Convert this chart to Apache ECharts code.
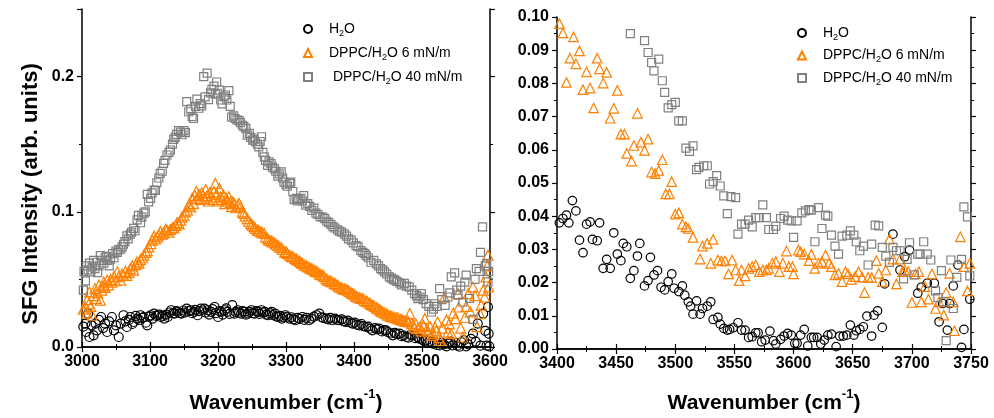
<!DOCTYPE html>
<html><head><meta charset="utf-8">
<script src="https://cdn.jsdelivr.net/npm/echarts@6/dist/echarts.min.js"></script>
<style>html,body{margin:0;padding:0;background:#fff}#c{width:994px;height:418px}</style>
</head><body><div id="c"></div>
<script>
// ---------- LEFT PANEL DATA (3000-3600 cm-1) ----------
const L_H2O_WN = [3002,3005,3006,3009,3011,3014,3017,3020,3022,3025,3028,3031,3034,3037,3040,3044,3047,3050,3054,3057,3061,3064,3066,3069,3071,3074,3076,3079,3081,3084,3086,3089,3091,3094,3096,3099,3101,3104,3106,3109,3111,3114,3116,3119,3121,3124,3126,3129,3131,3134,3136,3139,3141,3144,3146,3149,3151,3154,3157,3160,3162,3165,3167,3170,3172,3175,3177,3180,3182,3185,3187,3190,3192,3195,3197,3200,3202,3205,3207,3210,3212,3214,3217,3221,3224,3226,3229,3231,3234,3236,3239,3241,3244,3246,3249,3251,3254,3256,3259,3261,3264,3266,3269,3271,3274,3276,3279,3281,3284,3286,3289,3291,3294,3296,3299,3301,3305,3308,3311,3314,3317,3320,3324,3327,3330,3334,3337,3341,3345,3349,3352,3355,3359,3362,3365,3368,3372,3375,3378,3382,3385,3388,3391,3395,3398,3401,3404,3408,3411,3414,3418,3421,3424,3427,3431,3434,3437,3441,3444,3447,3450,3454,3457,3460,3463,3467,3470,3473,3477,3480,3483,3486,3490,3493,3496,3500,3503,3506,3509,3512,3516,3519,3522,3526,3529,3532,3536,3539,3542,3545,3549,3552,3555,3558,3562,3565,3568,3572,3575,3579,3582,3586,3590,3593,3595,3597,3598,3599];
const L_H2O_I = [0.0150,0.0173,0.0111,0.0247,0.0074,0.0160,0.0086,0.0173,0.0123,0.0200,0.0222,0.0140,0.0173,0.0111,0.0190,0.0222,0.0123,0.0160,0.0074,0.0173,0.0235,0.0190,0.0148,0.0200,0.0222,0.0170,0.0185,0.0230,0.0210,0.0200,0.0235,0.0215,0.0222,0.0180,0.0160,0.0225,0.0235,0.0210,0.0247,0.0230,0.0235,0.0240,0.0222,0.0230,0.0210,0.0240,0.0222,0.0255,0.0272,0.0250,0.0247,0.0265,0.0260,0.0250,0.0247,0.0270,0.0255,0.0284,0.0265,0.0272,0.0250,0.0260,0.0275,0.0235,0.0265,0.0284,0.0270,0.0284,0.0255,0.0272,0.0240,0.0260,0.0280,0.0296,0.0250,0.0222,0.0265,0.0260,0.0240,0.0272,0.0285,0.0260,0.0245,0.0309,0.0247,0.0260,0.0272,0.0255,0.0247,0.0265,0.0260,0.0240,0.0247,0.0260,0.0272,0.0250,0.0247,0.0265,0.0260,0.0245,0.0272,0.0255,0.0260,0.0240,0.0235,0.0250,0.0260,0.0235,0.0247,0.0225,0.0222,0.0230,0.0210,0.0220,0.0235,0.0222,0.0210,0.0220,0.0205,0.0198,0.0215,0.0208,0.0222,0.0200,0.0215,0.0198,0.0210,0.0225,0.0235,0.0247,0.0220,0.0215,0.0210,0.0205,0.0215,0.0198,0.0210,0.0200,0.0198,0.0205,0.0190,0.0185,0.0195,0.0180,0.0173,0.0180,0.0165,0.0160,0.0170,0.0155,0.0148,0.0150,0.0135,0.0123,0.0140,0.0130,0.0136,0.0115,0.0125,0.0123,0.0110,0.0100,0.0086,0.0105,0.0095,0.0099,0.0080,0.0085,0.0074,0.0070,0.0090,0.0086,0.0065,0.0075,0.0062,0.0055,0.0045,0.0049,0.0030,0.0040,0.0025,0.0035,0.0015,0.0012,0.0030,0.0020,0.0005,0.0025,0.0040,0.0012,0.0030,0.0010,0.0002,0.0035,0.0050,0.0005,0.0020,0.0060,0.0099,0.0040,0.0173,0.0010,0.0247,0.0120,0.0010,0.0296,0.0099,0.0005];

const L_D6_WN = [3002,3005,3007,3008,3010,3011,3013,3015,3017,3019,3021,3023,3025,3027,3029,3031,3032,3034,3037,3039,3042,3044,3047,3049,3052,3054,3057,3059,3061,3064,3066,3069,3071,3074,3076,3079,3081,3084,3086,3089,3091,3094,3096,3098,3101,3103,3106,3108,3111,3113,3115,3118,3120,3123,3125,3128,3130,3133,3135,3138,3140,3143,3145,3147,3150,3152,3155,3157,3160,3162,3164,3166,3168,3170,3172,3174,3176,3178,3180,3182,3184,3186,3188,3190,3192,3194,3196,3198,3200,3202,3204,3206,3208,3210,3212,3214,3216,3218,3220,3222,3224,3226,3229,3231,3233,3236,3238,3240,3243,3245,3248,3250,3253,3255,3258,3260,3263,3265,3268,3270,3273,3275,3278,3280,3283,3285,3288,3290,3293,3295,3298,3300,3302,3305,3308,3310,3313,3315,3317,3320,3322,3324,3327,3330,3332,3335,3337,3339,3342,3344,3346,3349,3351,3354,3356,3359,3361,3364,3366,3368,3371,3373,3376,3378,3381,3383,3386,3388,3391,3393,3396,3398,3401,3403,3405,3408,3410,3413,3415,3418,3420,3423,3425,3428,3430,3433,3435,3438,3440,3442,3445,3448,3450,3453,3455,3457,3460,3463,3465,3468,3470,3472,3475,3478,3480,3482,3485,3487,3489,3491,3494,3497,3499,3502,3504,3507,3509,3512,3514,3516,3519,3521,3523,3525,3527,3530,3533,3536,3538,3540,3543,3546,3549,3553,3554,3557,3560,3563,3565,3568,3571,3575,3578,3581,3585,3587,3590,3592,3594,3596,3597,3598];
const L_D6_I = [0.0280,0.0296,0.0250,0.0350,0.0320,0.0407,0.0300,0.0235,0.0380,0.0432,0.0360,0.0400,0.0457,0.0346,0.0420,0.0450,0.0481,0.0440,0.0494,0.0460,0.0500,0.0480,0.0523,0.0490,0.0556,0.0520,0.0494,0.0540,0.0530,0.0560,0.0530,0.0550,0.0580,0.0600,0.0568,0.0610,0.0630,0.0620,0.0647,0.0660,0.0679,0.0700,0.0712,0.0740,0.0765,0.0790,0.0820,0.0800,0.0815,0.0830,0.0852,0.0835,0.0844,0.0870,0.0864,0.0850,0.0869,0.0880,0.0883,0.0900,0.0920,0.0910,0.0938,0.0960,0.0975,0.1000,0.1012,0.1050,0.1037,0.1100,0.1062,0.1120,0.1150,0.1100,0.1130,0.1090,0.1140,0.1120,0.1100,0.1165,0.1120,0.1080,0.1140,0.1110,0.1090,0.1150,0.1210,0.1130,0.1080,0.1173,0.1110,0.1090,0.1124,0.1060,0.1100,0.1080,0.1111,0.1070,0.1040,0.1074,0.1060,0.1030,0.1050,0.1062,0.1037,0.1000,0.0988,0.0970,0.0950,0.0930,0.0915,0.0901,0.0890,0.0877,0.0865,0.0860,0.0852,0.0845,0.0840,0.0815,0.0802,0.0790,0.0785,0.0778,0.0770,0.0760,0.0753,0.0740,0.0735,0.0721,0.0700,0.0705,0.0692,0.0680,0.0670,0.0667,0.0655,0.0650,0.0642,0.0635,0.0625,0.0618,0.0605,0.0600,0.0593,0.0585,0.0580,0.0575,0.0565,0.0560,0.0556,0.0540,0.0535,0.0531,0.0520,0.0505,0.0494,0.0490,0.0485,0.0481,0.0470,0.0465,0.0457,0.0445,0.0440,0.0432,0.0428,0.0425,0.0420,0.0410,0.0400,0.0395,0.0385,0.0375,0.0370,0.0365,0.0360,0.0358,0.0345,0.0340,0.0333,0.0325,0.0315,0.0309,0.0300,0.0290,0.0284,0.0275,0.0265,0.0259,0.0250,0.0245,0.0235,0.0230,0.0225,0.0222,0.0218,0.0215,0.0210,0.0205,0.0200,0.0198,0.0190,0.0195,0.0185,0.0247,0.0175,0.0160,0.0143,0.0170,0.0136,0.0150,0.0120,0.0160,0.0210,0.0130,0.0111,0.0150,0.0086,0.0099,0.0148,0.0120,0.0185,0.0070,0.0049,0.0140,0.0368,0.0200,0.0110,0.0173,0.0099,0.0250,0.0210,0.0395,0.0296,0.0140,0.0074,0.0220,0.0300,0.0395,0.0260,0.0444,0.0380,0.0150,0.0247,0.0309,0.0420,0.0370,0.0518,0.0600,0.0679,0.0444];

const L_D40_WN = [3002,3003,3005,3007,3009,3011,3013,3015,3017,3019,3021,3023,3025,3027,3029,3032,3034,3036,3038,3040,3042,3045,3047,3050,3052,3054,3057,3059,3061,3063,3066,3068,3071,3073,3076,3078,3081,3083,3086,3088,3091,3093,3096,3098,3101,3103,3106,3108,3110,3113,3115,3118,3120,3122,3125,3128,3130,3133,3135,3137,3139,3142,3145,3147,3150,3152,3154,3157,3160,3162,3164,3167,3169,3172,3174,3176,3179,3181,3184,3186,3189,3191,3194,3196,3198,3199,3202,3204,3206,3209,3211,3213,3216,3218,3220,3223,3225,3228,3231,3233,3236,3238,3241,3243,3246,3248,3251,3253,3255,3258,3260,3262,3264,3266,3268,3270,3273,3275,3278,3280,3283,3285,3288,3290,3293,3295,3297,3300,3302,3305,3307,3310,3312,3315,3317,3319,3322,3324,3326,3329,3332,3335,3338,3341,3344,3347,3350,3354,3357,3360,3363,3366,3369,3372,3376,3379,3382,3386,3389,3392,3396,3399,3403,3406,3410,3413,3416,3418,3421,3425,3429,3433,3436,3439,3442,3445,3448,3452,3455,3458,3460,3463,3467,3470,3474,3477,3481,3485,3489,3492,3494,3497,3499,3502,3506,3510,3514,3517,3519,3522,3526,3529,3534,3538,3541,3543,3548,3551,3553,3557,3560,3563,3565,3570,3575,3578,3580,3584,3586,3589,3593,3595,3597,3598];
const L_D40_I = [0.0420,0.0560,0.0489,0.0600,0.0570,0.0620,0.0555,0.0592,0.0640,0.0580,0.0627,0.0550,0.0600,0.0676,0.0640,0.0620,0.0660,0.0670,0.0640,0.0600,0.0650,0.0690,0.0660,0.0710,0.0700,0.0720,0.0723,0.0740,0.0760,0.0780,0.0822,0.0800,0.0835,0.0850,0.0877,0.0860,0.0940,0.0973,0.0919,0.0960,0.0990,0.1000,0.1129,0.1074,0.1100,0.1140,0.1160,0.1159,0.1215,0.1250,0.1284,0.1300,0.1358,0.1380,0.1420,0.1440,0.1457,0.1500,0.1536,0.1550,0.1573,0.1600,0.1590,0.1570,0.1600,0.1585,0.1815,0.1740,0.1760,0.1704,0.1690,0.1780,0.1833,0.1766,0.1800,0.1783,0.2000,0.1850,0.2025,0.1830,0.1880,0.1905,0.1930,0.1870,0.1960,0.1877,0.1900,0.1827,0.1798,0.1850,0.1864,0.1827,0.1896,0.1780,0.1700,0.1710,0.1690,0.1680,0.1674,0.1660,0.1640,0.1630,0.1617,0.1567,0.1580,0.1550,0.1530,0.1540,0.1518,0.1500,0.1480,0.1520,0.1555,0.1440,0.1406,0.1380,0.1344,0.1370,0.1357,0.1330,0.1320,0.1300,0.1264,0.1280,0.1296,0.1250,0.1220,0.1200,0.1189,0.1210,0.1220,0.1150,0.1090,0.1100,0.1080,0.1090,0.1100,0.1080,0.1120,0.1050,0.1060,0.1040,0.1010,0.1027,0.0990,0.0980,0.0965,0.0960,0.0950,0.0930,0.0920,0.0906,0.0890,0.0880,0.0867,0.0855,0.0850,0.0835,0.0820,0.0800,0.0790,0.0770,0.0750,0.0740,0.0713,0.0700,0.0690,0.0676,0.0660,0.0627,0.0640,0.0615,0.0600,0.0580,0.0570,0.0556,0.0540,0.0519,0.0510,0.0500,0.0494,0.0485,0.0474,0.0460,0.0470,0.0450,0.0445,0.0420,0.0395,0.0380,0.0358,0.0370,0.0395,0.0350,0.0321,0.0300,0.0259,0.0280,0.0320,0.0300,0.0432,0.0350,0.0308,0.0370,0.0400,0.0519,0.0549,0.0420,0.0383,0.0450,0.0333,0.0480,0.0531,0.0360,0.0205,0.0500,0.0580,0.0560,0.0700,0.0889,0.0600,0.0618,0.0482,0.0560];

// ---------- RIGHT PANEL DATA (3400-3750 cm-1) ----------
const R_H2O_WN = [3402,3405,3408,3410,3413,3416,3419,3422,3425,3428,3430,3434,3436,3439,3442,3445,3448,3451,3454,3456,3459,3462,3465,3468,3470,3474,3477,3479,3482,3485,3488,3491,3494,3497,3499,3503,3506,3508,3511,3513,3515,3518,3521,3523,3527,3530,3532,3536,3538,3541,3544,3546,3549,3553,3556,3559,3562,3565,3568,3570,3573,3576,3580,3583,3585,3589,3592,3595,3598,3601,3603,3606,3609,3612,3615,3617,3620,3623,3626,3629,3632,3636,3639,3642,3645,3648,3651,3653,3656,3659,3662,3666,3668,3671,3675,3677,3684,3690,3694,3698,3705,3708,3713,3719,3723,3726,3730,3732,3735,3739,3742,3744,3749];
const R_H2O_I = [0.0380,0.0393,0.0403,0.0380,0.0447,0.0416,0.0328,0.0290,0.0376,0.0383,0.0330,0.0326,0.0380,0.0243,0.0270,0.0243,0.0350,0.0286,0.0266,0.0318,0.0308,0.0213,0.0236,0.0280,0.0318,0.0190,0.0206,0.0276,0.0223,0.0236,0.0186,0.0178,0.0203,0.0226,0.0183,0.0173,0.0190,0.0162,0.0142,0.0129,0.0105,0.0145,0.0105,0.0122,0.0129,0.0142,0.0089,0.0095,0.0075,0.0062,0.0057,0.0059,0.0064,0.0079,0.0057,0.0057,0.0035,0.0037,0.0049,0.0049,0.0022,0.0027,0.0054,0.0025,0.0015,0.0029,0.0039,0.0047,0.0042,0.0017,0.0017,0.0042,0.0059,0.0009,0.0035,0.0035,0.0035,0.0015,0.0027,0.0042,0.0045,0.0007,0.0039,0.0039,0.0042,0.0072,0.0042,0.0055,0.0059,0.0067,0.0099,0.0039,0.0102,0.0115,0.0065,0.0196,0.0346,0.0238,0.0278,0.0298,0.0168,0.0186,0.0198,0.0198,0.0082,0.0137,0.0057,0.0137,0.0190,0.0253,0.0005,0.0059,0.0150];

const R_D6_WN = [3402,3405,3408,3411,3414,3416,3419,3422,3425,3428,3431,3434,3436,3439,3442,3445,3448,3451,3454,3457,3459,3463,3465,3468,3471,3474,3477,3480,3483,3486,3489,3492,3495,3497,3500,3503,3506,3509,3511,3515,3521,3523,3527,3530,3532,3536,3539,3542,3545,3548,3551,3554,3556,3559,3562,3565,3568,3571,3574,3577,3579,3582,3585,3588,3591,3594,3596,3599,3600,3604,3606,3609,3613,3615,3618,3621,3624,3627,3630,3632,3635,3638,3641,3644,3646,3649,3652,3655,3658,3660,3663,3666,3670,3672,3675,3678,3681,3684,3687,3690,3692,3694,3697,3700,3703,3706,3708,3711,3714,3717,3720,3723,3727,3729,3732,3735,3736,3741,3744,3747,3749];
const R_D6_I = [0.0980,0.0952,0.0803,0.0876,0.0940,0.0859,0.0898,0.0781,0.0835,0.0786,0.0726,0.0876,0.0844,0.0801,0.0833,0.0695,0.0725,0.0779,0.0647,0.0647,0.0589,0.0566,0.0613,0.0710,0.0623,0.0598,0.0632,0.0533,0.0528,0.0538,0.0570,0.0467,0.0467,0.0504,0.0406,0.0410,0.0376,0.0368,0.0363,0.0336,0.0271,0.0310,0.0318,0.0258,0.0330,0.0268,0.0265,0.0265,0.0226,0.0268,0.0238,0.0206,0.0238,0.0220,0.0243,0.0248,0.0253,0.0233,0.0238,0.0238,0.0243,0.0258,0.0263,0.0233,0.0258,0.0295,0.0248,0.0248,0.0226,0.0298,0.0293,0.0286,0.0266,0.0285,0.0243,0.0258,0.0263,0.0283,0.0258,0.0248,0.0223,0.0228,0.0203,0.0233,0.0226,0.0210,0.0218,0.0233,0.0216,0.0170,0.0216,0.0215,0.0266,0.0228,0.0203,0.0238,0.0331,0.0271,0.0196,0.0271,0.0233,0.0238,0.0233,0.0140,0.0226,0.0233,0.0142,0.0188,0.0150,0.0226,0.0122,0.0142,0.0102,0.0170,0.0228,0.0142,0.0055,0.0338,0.0248,0.0175,0.0258];

const R_D40_WN = [3462,3474,3477,3480,3482,3486,3489,3491,3494,3497,3500,3503,3506,3509,3512,3515,3518,3520,3524,3527,3529,3532,3535,3538,3541,3544,3547,3551,3553,3556,3559,3562,3565,3568,3571,3574,3577,3579,3583,3585,3589,3592,3595,3598,3600,3603,3607,3610,3613,3615,3618,3621,3624,3627,3629,3632,3635,3638,3641,3645,3648,3651,3653,3656,3659,3663,3666,3669,3672,3675,3678,3681,3684,3687,3690,3693,3696,3698,3702,3705,3707,3710,3713,3716,3720,3722,3725,3727,3729,3733,3735,3738,3742,3744,3747,3749];
const R_D40_I = [0.0950,0.0929,0.0893,0.0863,0.0838,0.0873,0.0808,0.0773,0.0726,0.0736,0.0743,0.0687,0.0687,0.0605,0.0595,0.0612,0.0540,0.0547,0.0552,0.0552,0.0497,0.0504,0.0522,0.0491,0.0461,0.0408,0.0459,0.0456,0.0346,0.0376,0.0376,0.0388,0.0368,0.0396,0.0396,0.0434,0.0396,0.0360,0.0360,0.0370,0.0393,0.0400,0.0388,0.0386,0.0336,0.0386,0.0410,0.0416,0.0420,0.0418,0.0323,0.0426,0.0363,0.0403,0.0400,0.0343,0.0310,0.0286,0.0340,0.0343,0.0356,0.0343,0.0323,0.0296,0.0310,0.0253,0.0316,0.0373,0.0371,0.0306,0.0280,0.0261,0.0306,0.0296,0.0296,0.0211,0.0270,0.0320,0.0223,0.0286,0.0286,0.0323,0.0286,0.0268,0.0175,0.0155,0.0236,0.0142,0.0025,0.0268,0.0122,0.0216,0.0270,0.0428,0.0398,0.0220];

const LEGEND_TEXT_LEFT = {L1:['H','O'], L2:['DPPC/H','O 6 mN/m'], L3:[' DPPC/H','O 40 mN/m']};
const LEGEND_TEXT_RIGHT = {R1:['H','O'], R2:['DPPC/H','O 6 mN/m'], R3:['DPPC/H','O 40 mN/m']};

const zip = (a, b) => a.map((x, i) => [x, b[i]]);
const FONT = 'Liberation Sans, Arial, sans-serif';
const BLACK = '#000';
const ORANGE = '#ff8000';
const GREY = '#808080';

function xAx(grid, min, max, interval, name, showLabel, pos, nameGap) {
  return {
    type: 'value', gridIndex: grid, min, max, interval, position: pos,
    axisLine: {show: true, lineStyle: {color: BLACK, width: 1.5}},
    axisTick: {show: true, length: 5, lineStyle: {color: BLACK, width: 1.2}},
    minorTick: {show: true, splitNumber: 2, length: 3, lineStyle: {color: BLACK, width: 1}},
    splitLine: {show: false},
    axisLabel: {show: showLabel, color: BLACK, fontFamily: FONT, fontWeight: 'bold', fontSize: 16, margin: 7,
      formatter: v => String(v)},
    name: showLabel ? name : '', nameLocation: 'middle', nameGap: nameGap,
    nameTextStyle: {
      color: BLACK, fontFamily: FONT, fontWeight: 'bold',
      rich: {
        t: {fontSize: 21, fontWeight: 'bold', fontFamily: FONT, color: BLACK, lineHeight: 26, verticalAlign: 'bottom'},
        p: {fontSize: 13, fontWeight: 'bold', fontFamily: FONT, color: BLACK, lineHeight: 26, verticalAlign: 'top'}
      }
    }
  };
}
function yAx(grid, min, max, interval, digits, showLabel, pos, name, nameGap) {
  return {
    type: 'value', gridIndex: grid, min, max, interval, position: pos,
    axisLine: {show: true, lineStyle: {color: BLACK, width: 1.5}},
    axisTick: {show: true, length: 5, lineStyle: {color: BLACK, width: 1.2}},
    minorTick: {show: true, splitNumber: 2, length: 3, lineStyle: {color: BLACK, width: 1}},
    splitLine: {show: false},
    axisLabel: {show: showLabel, color: BLACK, fontFamily: FONT, fontWeight: 'bold', fontSize: 16, margin: 8,
      showMaxLabel: digits === 1 ? false : true,
      formatter: v => v.toFixed(digits)},
    name: name || '', nameLocation: 'middle', nameGap: nameGap || 0,
    nameTextStyle: {color: BLACK, fontFamily: FONT, fontWeight: 'bold', fontSize: 22, padding: [0, 32, 0, 0]}
  };
}
function ser(name, xi, yi, data, symbol, size, color) {
  return {
    name, type: 'scatter', xAxisIndex: xi, yAxisIndex: yi, data,
    symbol, symbolSize: size, silent: true,
    itemStyle: {color: 'rgba(0,0,0,0)', borderColor: color, borderWidth: 1.2, opacity: 1}
  };
}
const legRich = {
  f: {fontSize: 14, fontFamily: FONT, color: BLACK, lineHeight: 18, padding: [0, 0, 0, 12], verticalAlign: 'middle'},
  n: {fontSize: 14, fontFamily: FONT, color: BLACK, lineHeight: 18, verticalAlign: 'middle'},
  s: {fontSize: 9, fontFamily: FONT, color: BLACK, lineHeight: 18, verticalAlign: 'bottom'}
};
function legend(names, map, left, top, gap) {
  return {
    data: names, left, top, orient: 'vertical', itemWidth: 8, itemHeight: 8, itemGap: gap,
    selectedMode: false,
    formatter: n => '{f|' + map[n][0] + '}{s|2}{n|' + map[n][1] + '}',
    textStyle: {rich: legRich, fontFamily: FONT, fontSize: 14, color: BLACK}
  };
}

const chart = echarts.init(document.getElementById('c'), null, {renderer: 'canvas'});
const XNAME = '{t|Wavenumber (cm}{p|-1}{t|)}';
chart.setOption({
  backgroundColor: '#fff',
  animation: false,
  grid: [
    {left: 82, top: 9, width: 408, height: 338, containLabel: false, outerBoundsMode: 'none'},
    {left: 557, top: 17, width: 414, height: 332, containLabel: false, outerBoundsMode: 'none'}
  ],
  xAxis: [
    xAx(0, 3000, 3600, 100, XNAME, true, 'bottom', 41),
    xAx(0, 3000, 3600, 100, '', false, 'top', 0),
    xAx(1, 3400, 3750, 50, XNAME, true, 'bottom', 39),
    xAx(1, 3400, 3750, 50, '', false, 'top', 0)
  ],
  yAxis: [
    yAx(0, 0, 0.25, 0.1, 1, true, 'left', 'SFG Intensity (arb. units)', 40),
    yAx(0, 0, 0.25, 0.1, 1, false, 'right'),
    yAx(1, 0, 0.1, 0.01, 2, true, 'left'),
    yAx(1, 0, 0.1, 0.01, 2, false, 'right')
  ],
  legend: [
    legend(['L1', 'L2', 'L3'], LEGEND_TEXT_LEFT, 298, 17, 8),
    legend(['R1', 'R2', 'R3'], LEGEND_TEXT_RIGHT, 792, 21, 6.5)
  ],
  series: [
    ser('L1', 0, 0, zip(L_H2O_WN, L_H2O_I), 'circle', 9, BLACK),
    ser('L2', 0, 0, zip(L_D6_WN, L_D6_I), 'triangle', 10, ORANGE),
    ser('L3', 0, 0, zip(L_D40_WN, L_D40_I), 'rect', 8, GREY),
    ser('R1', 2, 2, zip(R_H2O_WN, R_H2O_I), 'circle', 8.5, BLACK),
    ser('R2', 2, 2, zip(R_D6_WN, R_D6_I), 'triangle', 9.5, ORANGE),
    ser('R3', 2, 2, zip(R_D40_WN, R_D40_I), 'rect', 8, GREY)
  ]
});
</script>
</body></html>
